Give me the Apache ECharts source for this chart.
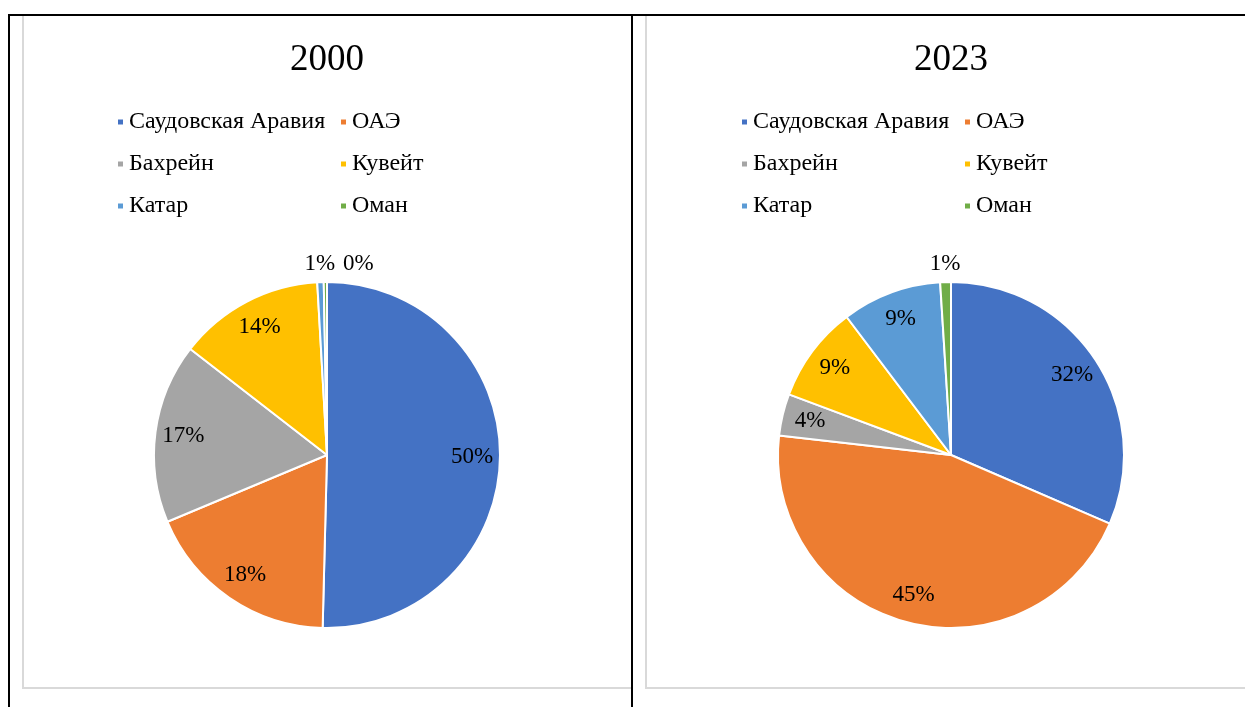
<!DOCTYPE html>
<html>
<head>
<meta charset="utf-8">
<script src="https://cdn.jsdelivr.net/npm/echarts@6/dist/echarts.min.js"></script>
<style>
  html, body { margin: 0; padding: 0; background: #fff; overflow: hidden; }
  body { width: 1245px; height: 707px; position: relative; }
  .box { position: absolute; border: 2px solid #d9d9d9; box-sizing: border-box; }
  .line { position: absolute; background: #000; z-index: 5; }
  .chart { position: absolute; top: 15px; width: 608px; height: 673px; }
</style>
</head>
<body>
  <!-- рамки диаграмм -->
  <div class="box" style="left:22px;top:14px;width:611px;height:675px;"></div>
  <div class="box" style="left:645px;top:14px;width:620px;height:675px;"></div>

  <div id="chart2000" class="chart" style="left:23px;"></div>
  <div id="chart2023" class="chart" style="left:647px;"></div>

  <!-- линии таблицы -->
  <div class="line" style="left:8px;top:14px;width:1237px;height:2px;"></div>
  <div class="line" style="left:8px;top:14px;width:2px;height:693px;"></div>
  <div class="line" style="left:631px;top:14px;width:2px;height:693px;"></div>

<script>
  const countries = ['Саудовская Аравия', 'ОАЭ', 'Бахрейн', 'Кувейт', 'Катар', 'Оман']
  const colors = ['#4472C4', '#ED7D31', '#A5A5A5', '#FFC000', '#5B9BD5', '#70AD47']
  // доли стран, %
  const share2000 = [50.4, 18.3, 16.8, 13.6, 0.6, 0.3]
  const share2023 = [31.5, 45.3, 3.9, 9.0, 9.3, 1.0]

  const serif = "'Times New Roman', 'Liberation Serif', serif"
  const pieCenterY = 440
  const pieRadius = 173

  function makeOption(year, values) {
    const total = values.reduce((a, b) => a + b, 0)
    let placed = []
    const legendBase = {
      orient: 'vertical',
      top: 90,
      icon: 'rect',
      itemWidth: 7,
      itemHeight: 7,
      itemGap: 18,
      selectedMode: false,
      textStyle: { fontFamily: serif, fontSize: 24, color: '#000', lineHeight: 24 }
    }
    return {
      animation: false,
      color: colors,
      title: {
        text: year,
        left: 'center',
        top: 20,
        textStyle: { fontFamily: serif, fontSize: 37, fontWeight: 'normal', color: '#000', lineHeight: 40 }
      },
      legend: [
        Object.assign({}, legendBase, { left: 88, data: [countries[0], countries[2], countries[4]] }),
        Object.assign({}, legendBase, { left: 311, data: [countries[1], countries[3], countries[5]] })
      ],
      series: [{
        type: 'pie',
        center: ['50%', pieCenterY],
        radius: pieRadius,
        startAngle: 90,
        clockwise: true,
        data: countries.map((name, i) => ({ name: name, value: values[i] })),
        itemStyle: { borderColor: '#fff', borderWidth: 2 },
        label: {
          position: 'inside',
          formatter: p => Math.round(p.percent) + '%',
          fontFamily: serif,
          fontSize: 23,
          color: '#000'
        },
        labelLine: { show: false },
        // подписи дальше от центра, как в Excel; мелкие доли - снаружи
        labelLayout: function (params) {
          if (params.dataIndex === 0) placed = []
          const r = params.labelRect
          const cx = 304
          const lx = r.x + r.width / 2
          const ly = r.y + r.height / 2
          const small = values[params.dataIndex] / total < 0.02
          const k = small ? 2.14 : 1.62
          let x = cx + (lx - cx) * k
          const y = pieCenterY + (ly - pieCenterY) * k
          if (small) {
            placed.forEach(b => {
              if (Math.abs(b.y - y) < r.height && x - r.width / 2 < b.x + b.w / 2 + 4) {
                x = b.x + b.w / 2 + 8 + r.width / 2
              }
            })
            placed.push({ x: x, y: y, w: r.width })
          }
          return { x: x, y: y }
        }
      }]
    }
  }

  const chart2000 = echarts.init(document.getElementById('chart2000'))
  chart2000.setOption(makeOption('2000', share2000))
  const chart2023 = echarts.init(document.getElementById('chart2023'))
  chart2023.setOption(makeOption('2023', share2023))
</script>
</body>
</html>
